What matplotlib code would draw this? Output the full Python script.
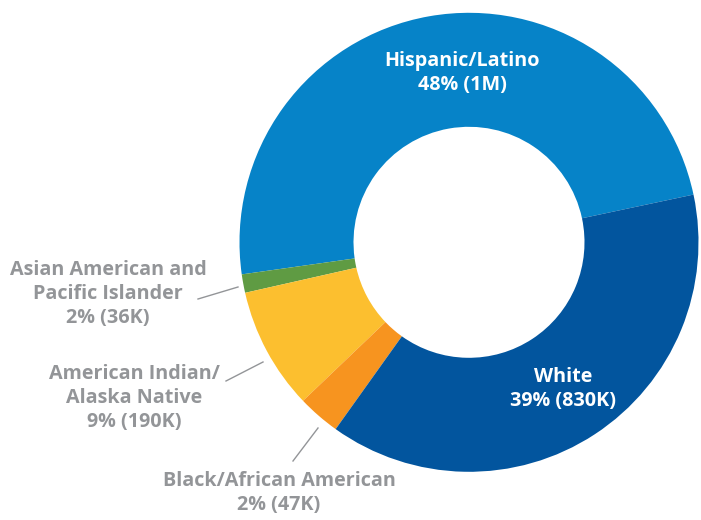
import matplotlib
matplotlib.use("Agg")
import matplotlib.pyplot as plt

groups = ["Hispanic/Latino", "Asian American and Pacific Islander",
          "American Indian/ Alaska Native", "Black/African American", "White"]
shares = [48.9, 1.3, 8.6, 3.0, 38.2]
colors = ["#0683c8", "#5f9b43", "#fcbf2f", "#f7941f", "#02559e"]

inside_labels = ["Hispanic/Latino\n48% (1M)", "White\n39% (830K)"]
outside_labels = ["Asian American and\nPacific Islander\n2% (36K)",
                  "American Indian/\nAlaska Native\n9% (190K)",
                  "Black/African American\n2% (47K)"]

W, H = 701, 520
cx, cy = 469, H - 242.3
R = 229.5
gray = "#939598"

fig = plt.figure(figsize=(W / 100, H / 100), dpi=100)
ax = fig.add_axes([0, 0, 1, 1])
ax.pie(shares, colors=colors, startangle=12, counterclock=True,
       center=(cx, cy), radius=R,
       wedgeprops=dict(width=R - 115.5, linewidth=0))
ax.set_xlim(0, W)
ax.set_ylim(0, H)
ax.set_aspect("equal")
ax.axis("off")

font = dict(family="Open Sans", fontweight="bold", fontsize=14.2,
            ha="center", va="center", linespacing=1.28)

ax.text(462, H - 73, inside_labels[0], color="white", **font)
ax.text(563, H - 389, inside_labels[1], color="white", **font)

ax.text(108, H - 294, outside_labels[0], color=gray, **font)
ax.text(134, H - 398, outside_labels[1], color=gray, **font)
ax.text(279, H - 493, outside_labels[2], color=gray, **font)

# leader lines
ax.plot([198, 238], [H - 299, H - 287], color=gray, lw=1)
ax.plot([226, 263], [H - 381, H - 362], color=gray, lw=1)
ax.plot([293, 318], [H - 461, H - 428], color=gray, lw=1)

fig.savefig("out.png", dpi=100)
